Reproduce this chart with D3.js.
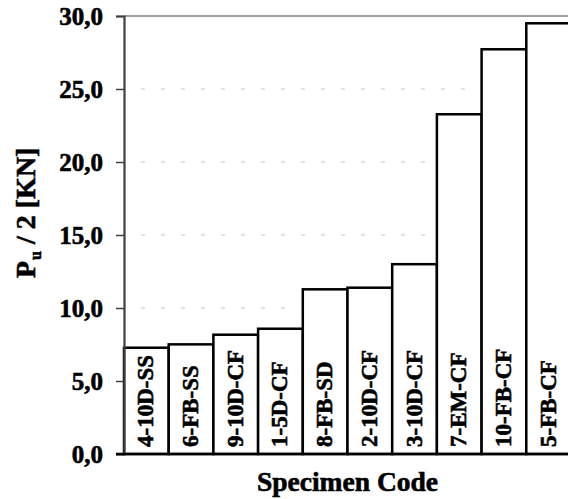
<!DOCTYPE html>
<html>
<head>
<meta charset="utf-8">
<script src="https://cdn.jsdelivr.net/npm/d3@7"></script>
<style>
  html, body { margin: 0; padding: 0; background: #fff; }
  svg { display: block; }
  text { font-family: "Liberation Serif", "Times New Roman", serif; font-weight: bold; fill: #000;
         stroke: #000; stroke-width: 0.6px; }
</style>
</head>
<body>
<script>
// Specimens, ordered by ultimate load
const specimens = ["4-10D-SS", "6-FB-SS", "9-10D-CF", "1-5D-CF", "8-FB-SD",
                   "2-10D-CF", "3-10D-CF", "7-EM-CF", "10-FB-CF", "5-FB-CF"];
// Half ultimate load Pu/2 in kN
const halfLoad = [7.28, 7.51, 8.17, 8.58, 11.28, 11.39, 13.0, 23.27, 27.72, 29.5];
// Y axis ticks
const yTicks = [0, 5, 10, 15, 20, 25, 30];
const fmt = v => v.toFixed(1).replace(".", ",");

const W = 568, H = 499;
const plot = { left: 124, right: 571, top: 16, bottom: 454 };

const svg = d3.select("body").append("svg").attr("width", W).attr("height", H);

const x = d3.scaleBand().domain(specimens).range([plot.left, plot.right]).padding(0);
const y = d3.scaleLinear().domain([0, 30]).range([plot.bottom, plot.top]);

// dashed gridlines
svg.append("g").selectAll("line")
  .data(yTicks.filter(t => t > 0 && t < 30))
  .join("line")
  .attr("x1", plot.left).attr("x2", W)
  .attr("y1", d => y(d)).attr("y2", d => y(d))
  .attr("stroke", "#c8c8c8").attr("stroke-width", 1.2)
  .attr("stroke-dasharray", "4,16").attr("stroke-dashoffset", -17);

// top line at max
svg.append("line")
  .attr("x1", plot.left).attr("x2", W)
  .attr("y1", y(30)).attr("y2", y(30))
  .attr("stroke", "#a0a0a0").attr("stroke-width", 2);

// bars
svg.append("g").selectAll("rect")
  .data(specimens)
  .join("rect")
  .attr("x", d => x(d))
  .attr("width", x.bandwidth())
  .attr("y", (d, i) => y(halfLoad[i]))
  .attr("height", (d, i) => y(0) - y(halfLoad[i]))
  .attr("fill", "#fff").attr("stroke", "#000").attr("stroke-width", 2.5);

// bar labels
svg.append("g").selectAll("text")
  .data(specimens)
  .join("text")
  .attr("transform", d => `translate(${x(d) + x.bandwidth() / 2 + 7},447) rotate(-90)`)
  .attr("font-size", 23)
  .text(d => d);

// y axis
const yAxis = d3.axisLeft(y).tickValues(yTicks).tickFormat(fmt).tickSize(8).tickPadding(13);
const gy = svg.append("g").attr("transform", `translate(${plot.left},0)`).call(yAxis);
gy.select(".domain").attr("stroke", "#404040").attr("stroke-width", 2.2);
gy.selectAll(".tick line").attr("stroke", "#404040").attr("stroke-width", 1.5);
gy.selectAll(".tick text")
  .attr("font-size", 25).attr("dy", "0.34em")
  .style("font-family", "'Liberation Serif', 'Times New Roman', serif")
  .style("font-weight", "bold").attr("fill", "#000");

// x baseline
svg.append("line")
  .attr("x1", plot.left - 8).attr("x2", W)
  .attr("y1", y(0)).attr("y2", y(0))
  .attr("stroke", "#000").attr("stroke-width", 2.5);

// axis titles
svg.append("text")
  .attr("x", (plot.left + plot.right) / 2).attr("y", 491)
  .attr("text-anchor", "middle").attr("font-size", 27.5)
  .text("Specimen Code");

const yt = svg.append("text")
  .attr("transform", "translate(35,278) rotate(-90)")
  .attr("font-size", 28);
yt.append("tspan").text("P");
yt.append("tspan").attr("font-size", 16).attr("dy", 6).attr("dx", 1).text("u");
yt.append("tspan").attr("dy", -6).text(" / 2 [KN]");
</script>
</body>
</html>
